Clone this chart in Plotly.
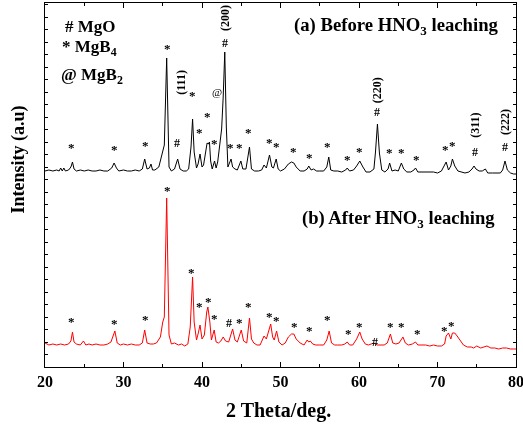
import plotly.graph_objects as go

# ---------------- data: (a) Before HNO3 leaching (black) ----------------
theta_a = [20.0,20.5,21.0,21.5,21.8,22.0,22.2,22.4,22.6,23.0,23.3,23.5,23.7,24.0,24.5,25.0,25.5,26.0,26.5,27.0,27.5,28.0,28.5,28.8,29.1,29.4,30.0,30.5,31.0,31.5,32.0,32.4,32.7,33.0,33.3,33.5,33.7,34.0,34.5,34.9,35.2,35.5,35.8,36.1,36.5,36.9,37.2,37.6,38.0,38.3,38.6,38.8,39.0,39.3,39.5,39.75,40.0,40.2,40.5,40.65,40.8,40.95,41.1,41.3,41.6,41.8,42.0,42.3,42.5,42.7,42.9,43.1,43.3,43.7,43.9,44.2,44.5,44.95,45.2,45.6,46.05,46.3,46.7,47.2,47.6,47.9,48.2,48.6,48.9,49.1,49.45,49.7,50.0,50.5,51.0,51.4,51.7,52.0,52.5,53.0,53.4,53.6,53.9,54.2,54.6,55.0,55.5,55.9,56.15,56.4,56.8,57.3,57.8,58.3,58.5,58.8,59.3,59.7,60.1,60.5,60.9,61.4,61.9,62.1,62.35,62.6,62.9,63.3,63.7,63.9,64.2,64.6,65.0,65.4,65.7,66.1,66.6,67.0,67.2,67.5,68.0,68.5,69.0,69.5,70.0,70.5,70.9,71.1,71.4,71.7,71.9,72.2,72.6,73.0,73.5,74.0,74.4,74.65,74.9,75.3,75.7,76.1,76.4,77.0,77.5,78.0,78.3,78.6,78.9,79.3,79.7,80.0]
inten_a = [196,197,196,197,196,199,196,199,196,197,200,205,198,196,197,196,197,196,196,197,196,196,199,204,199,196,197,196,196,197,196,198,208,198,199,203,197,197,200,213,222,309,200,196,198,208,198,196,196,198,220,248,215,199,203,213,200,202,220,224,223,225,206,198,206,199,205,225,238,270,315,240,200,208,200,198,197,206,198,198,220,198,196,196,197,202,199,212,200,199,208,198,196,198,203,205,204,200,196,196,198,201,197,198,196,196,196,200,210,197,196,196,195,197,199,196,197,201,206,200,195,195,198,215,243,214,197,195,198,204,196,197,196,204,198,195,195,197,199,195,195,195,195,195,194,196,202,205,197,201,208,201,196,195,194,195,198,201,198,196,196,198,194,194,194,194,197,206,197,194,193,193]

# ---------------- data: (b) After HNO3 leaching (red) ----------------
theta_b = [20.0,20.5,21.0,21.5,22.0,22.5,23.0,23.3,23.5,23.7,24.0,24.5,24.9,25.2,25.6,26.0,26.5,27.0,27.5,28.0,28.4,28.6,28.9,29.2,29.6,30.0,30.5,31.0,31.5,32.0,32.4,32.7,33.0,33.4,33.8,34.2,34.7,35.0,35.2,35.5,35.8,36.1,36.5,37.0,37.4,37.8,38.2,38.5,38.8,39.0,39.3,39.5,39.75,40.0,40.3,40.6,40.75,41.0,41.2,41.55,41.8,42.1,42.4,42.7,43.0,43.4,43.6,43.9,44.2,44.5,45.0,45.3,45.7,46.05,46.3,46.6,47.0,47.4,47.9,48.2,48.75,49.0,49.2,49.5,49.8,50.2,50.6,51.0,51.4,51.7,52.0,52.5,53.0,53.4,53.6,53.8,54.1,54.5,55.0,55.5,55.9,56.2,56.5,56.9,57.3,57.8,58.2,58.5,58.8,59.2,59.7,60.1,60.4,60.8,61.2,61.6,61.9,62.3,62.7,63.2,63.6,64.0,64.3,64.7,65.1,65.6,65.9,66.3,66.8,67.2,67.5,68.0,68.5,69.0,69.5,70.0,70.5,70.9,71.1,71.4,71.7,71.9,72.2,72.5,72.9,73.3,73.8,74.3,74.6,75.0,75.5,75.9,76.3,76.8,77.3,77.8,78.3,78.8,79.3,79.7,80.0]
inten_b = [24,22,23,22,23,22,23,26,35,25,23,22,26,22,23,22,23,22,22,23,25,30,36,24,22,23,22,23,22,22,24,37,24,23,23,24,30,45,50,169,32,23,24,22,23,21,23,40,90,45,27,33,42,28,32,55,60,45,27,37,25,24,26,30,26,25,30,38,27,25,37,26,24,49,28,24,22,22,31,28,43,30,27,36,25,22,24,30,33,33,28,24,22,27,25,26,23,22,22,22,27,36,24,22,22,22,23,25,22,22,28,35,28,23,22,23,24,22,22,22,24,33,24,23,24,30,24,22,23,25,22,22,22,21,22,21,21,23,31,34,28,34,34,31,26,22,20,20,19,21,19,20,21,19,19,18,19,19,18,18,18,18]

# ---------------- phase markers ----------------
star_a_x = [23.40,28.79,32.74,35.59,38.78,39.71,40.69,41.53,43.66,44.80,45.86,48.54,49.43,51.64,53.72,55.97,58.52,60.00,63.91,65.40,67.35,71.04,71.90]
star_a_y = [223,221,225,322,275,238,254,227,223,223,238,228,224,219,213,224,211,219,218,218,211,221,225]
hash_a_x = [36.87,42.93,62.34,74.74,78.60]
hash_a_y = [224,324,255,215,220]
at_a_x = [41.96]
at_a_y = [275]
hkl_labels = ["(111)","(200)","(220)","(311)","(222)"]
hkl_x = [37.29,42.93,62.34,74.74,78.60]
hkl_y = [285,349,277,242,245]

star_b_x = [23.40,28.79,32.74,35.59,38.69,39.71,40.82,41.62,44.80,45.91,48.59,49.43,51.72,53.72,55.97,58.60,60.05,63.95,65.40,67.44,70.92,71.81]
star_b_y = [49,47,51,180,98,64,69,52,48,64,54,50,44,40,51,37,44,44,44,37,40,45]
hash_b_x = [43.44,62.04]
hash_b_y = [44,25]

x_ticks = [20,30,40,50,60,70,80]

SERIF = "Liberation Serif, Times New Roman, serif"

fig = go.Figure()
fig.add_trace(go.Scatter(x=theta_a, y=inten_a, mode="lines",
                         line=dict(color="black", width=1), showlegend=False))
fig.add_trace(go.Scatter(x=theta_b, y=inten_b, mode="lines",
                         line=dict(color="red", width=1), showlegend=False))

ann = []
def mark(xs, ys, txt, size, shift=0):
    for x, y in zip(xs, ys):
        ann.append(dict(x=x, y=y, text=txt, showarrow=False, yshift=shift,
                        font=dict(family=SERIF, size=size, color="black")))

mark(star_a_x, star_a_y, "<b>*</b>", 13, -3)
mark(star_b_x, star_b_y, "<b>*</b>", 13, -3)
mark(hash_a_x, hash_a_y, "<b>#</b>", 12)
mark(hash_b_x, hash_b_y, "<b>#</b>", 12)
mark(at_a_x, at_a_y, "@", 11)
for lab, x, y in zip(hkl_labels, hkl_x, hkl_y):
    ann.append(dict(x=x, y=y, text="<b>%s</b>" % lab, showarrow=False, textangle=-90,
                    font=dict(family=SERIF, size=12, color="black")))

# legend of phases
ann.append(dict(x=22.3, y=341, text="<b># MgO</b>", xanchor="left", showarrow=False,
                font=dict(family=SERIF, size=17, color="black")))
ann.append(dict(x=21.9, y=319, text="<b>* MgB<sub>4</sub></b>", xanchor="left", showarrow=False,
                font=dict(family=SERIF, size=17, color="black")))
ann.append(dict(x=21.8, y=291, text="<b>@ MgB<sub>2</sub></b>", xanchor="left", showarrow=False,
                font=dict(family=SERIF, size=17, color="black")))
# panel labels
ann.append(dict(x=78.1, y=341, text="<b>(a) Before HNO<sub>3</sub> leaching</b>", xanchor="right",
                showarrow=False, font=dict(family=SERIF, size=18.7, color="black")))
ann.append(dict(x=77.6, y=148, text="<b>(b) After HNO<sub>3</sub> leaching</b>", xanchor="right",
                showarrow=False, font=dict(family=SERIF, size=18.6, color="black")))
# axis titles
ann.append(dict(xref="paper", yref="paper", x=0, y=0.57, xshift=-26, xanchor="center", yanchor="middle",
                text="<b>Intensity (a.u)</b>", textangle=-90, showarrow=False,
                font=dict(family=SERIF, size=18, color="black")))
ann.append(dict(xref="paper", yref="paper", x=0.495, y=0, yshift=-43, xanchor="center", yanchor="middle",
                text="<b>2 Theta/deg.</b>", showarrow=False,
                font=dict(family=SERIF, size=20, color="black")))

fig.update_layout(
    width=523, height=432,
    margin=dict(l=45, r=7, t=3, b=65, autoexpand=False),
    paper_bgcolor="white", plot_bgcolor="white",
    annotations=ann, hovermode=False,
    font=dict(family=SERIF, color="black"),
)
fig.update_xaxes(range=[20, 80], tickvals=x_ticks,
                 ticktext=["<b>%d</b>" % v for v in x_ticks],
                 ticklabeloverflow="allow",
                 ticks="inside", ticklen=5, tickwidth=1, tickcolor="black",
                 minor=dict(dtick=5, ticks="inside", ticklen=3, tickcolor="black"),
                 showline=True, linecolor="black", linewidth=1.2, mirror="ticks",
                 showgrid=False, zeroline=False, automargin=False,
                 tickfont=dict(family=SERIF, size=16, color="black"))
fig.update_yaxes(range=[0, 364], dtick=12.5, tick0=0, showticklabels=False,
                 ticks="inside", ticklen=3, tickwidth=1, tickcolor="black",
                 showline=True, linecolor="black", linewidth=1.2, mirror="ticks",
                 showgrid=False, zeroline=False, automargin=False)

fig.write_html("out.html", config={"displayModeBar": False, "staticPlot": True},
               post_script="document.body.style.margin='0';document.body.style.padding='0';"
                           "document.querySelectorAll('svg.main-svg').forEach(function(s){s.style.willChange='transform';});")
